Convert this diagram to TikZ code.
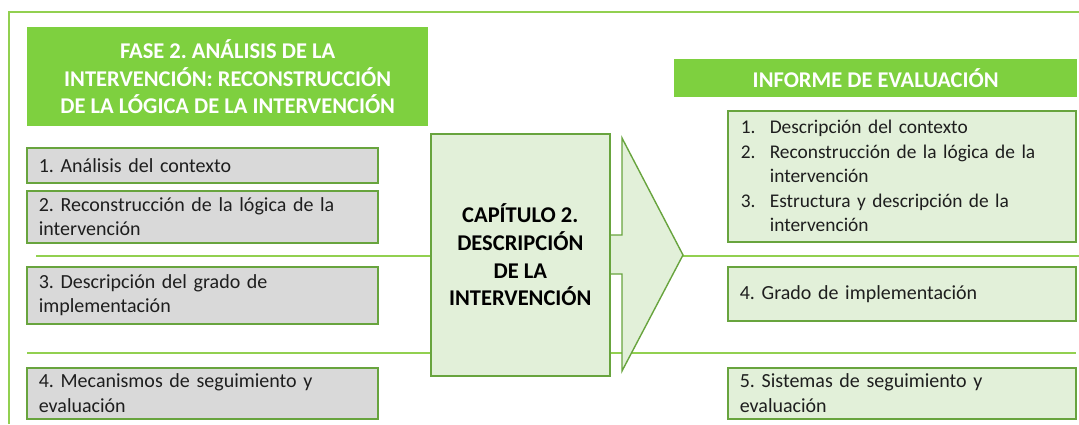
\documentclass[tikz,border=0pt]{standalone}
\usepackage{fontspec}
\setmainfont{Carlito}
\frenchspacing
\definecolor{hdr}{RGB}{126,208,63}
\definecolor{frm}{RGB}{146,208,80}
\definecolor{bord}{RGB}{104,164,62}
\definecolor{lgreen}{RGB}{226,240,217}
\definecolor{lgray}{RGB}{217,217,217}
\definecolor{txt}{RGB}{30,30,30}
\begin{document}
\begin{tikzpicture}[x=1pt,y=-1pt,
  hdrbox/.style={fill=hdr, draw=none, text=white, anchor=north west,
    font=\fontsize{22.5}{27.7}\selectfont\bfseries, align=center, inner sep=0pt},
  itembox/.style={fill=lgray, draw=bord, line width=1.6pt, anchor=north west,
    inner xsep=12pt, inner ysep=0pt, align=left, text=txt,
    font=\fontsize{20}{24.5}\selectfont\frenchspacing},
  greenbox/.style={itembox, fill=lgreen},
  sepline/.style={draw=frm, line width=1.4pt},
  arrowshape/.style={fill=lgreen, draw=bord, line width=1.4pt, line join=miter}
]
\useasboundingbox (0,0) rectangle (1079,424);
% frame
\draw[frm, line width=2pt] (9,424) -- (9,12) -- (1079,12);
% separator lines
\coordinate (l1a) at (36,256);
\coordinate (l1b) at (1079,256);
\coordinate (l2a) at (27,353);
\coordinate (l2b) at (1076,353);
\draw[sepline] (l1a) -- (l1b);
\draw[sepline] (l2a) -- (l2b);
% headers
\node[hdrbox, minimum width=401pt, minimum height=99pt] (h1) at (27,27)
  {FASE 2. ANÁLISIS DE LA\\INTERVENCIÓN: RECONSTRUCCIÓN\\DE LA LÓGICA DE LA INTERVENCIÓN};
\node[hdrbox, minimum width=403pt, minimum height=38pt] (h2) at (674,59)
  {INFORME DE EVALUACIÓN};
% left boxes
\node[itembox, text width=327pt, minimum height=35pt] (b1) at (26,147) {1. Análisis del contexto};
\node[itembox, text width=327pt, minimum height=52pt] (b2) at (26,190) {2. Reconstrucción de la lógica de la\\intervención};
\node[itembox, text width=327pt, minimum height=57pt] (b3) at (26,266) {3. Descripción del grado de\\implementación};
\node[itembox, text width=327pt, minimum height=51pt] (b4) at (26,367) {4. Mecanismos de seguimiento y\\evaluación};
% arrow
\coordinate (a1) at (600,235);
\coordinate (a2) at (622,235);
\coordinate (a3) at (622,138);
\coordinate (tip) at (683,255);
\coordinate (a5) at (622,371);
\coordinate (a6) at (622,274);
\coordinate (a7) at (600,274);
\draw[arrowshape] (a1) -- (a2) -- (a3) -- (tip) -- (a5) -- (a6) -- (a7) -- cycle;
% central box
\node[fill=lgreen, draw=bord, line width=1.6pt, anchor=north west, minimum width=179pt,
  minimum height=242pt, inner sep=0pt, align=center, text=black,
  font=\fontsize{22.5}{27.7}\selectfont\bfseries] (cap) at (430,133)
  {CAPÍTULO 2.\\DESCRIPCIÓN\\DE LA\\INTERVENCIÓN};
% right boxes
\node[greenbox, text width=322pt, inner xsep=13pt, minimum height=131pt,
  font=\fontsize{19.4}{24.5}\selectfont] (r1) at (727,110)
  {\makebox[29pt][l]{1.}Descripción del contexto\\
   \makebox[29pt][l]{2.}Reconstrucción de la lógica de la\\
   \hspace*{29pt}intervención\\
   \makebox[29pt][l]{3.}Estructura y descripción de la\\
   \hspace*{29pt}intervención};
\node[greenbox, text width=324pt, minimum height=54pt] (r2) at (727,266) {4. Grado de implementación};
\node[greenbox, text width=324pt, minimum height=51pt] (r3) at (727,367) {5. Sistemas de seguimiento y\\evaluación};
\end{tikzpicture}
\end{document}
